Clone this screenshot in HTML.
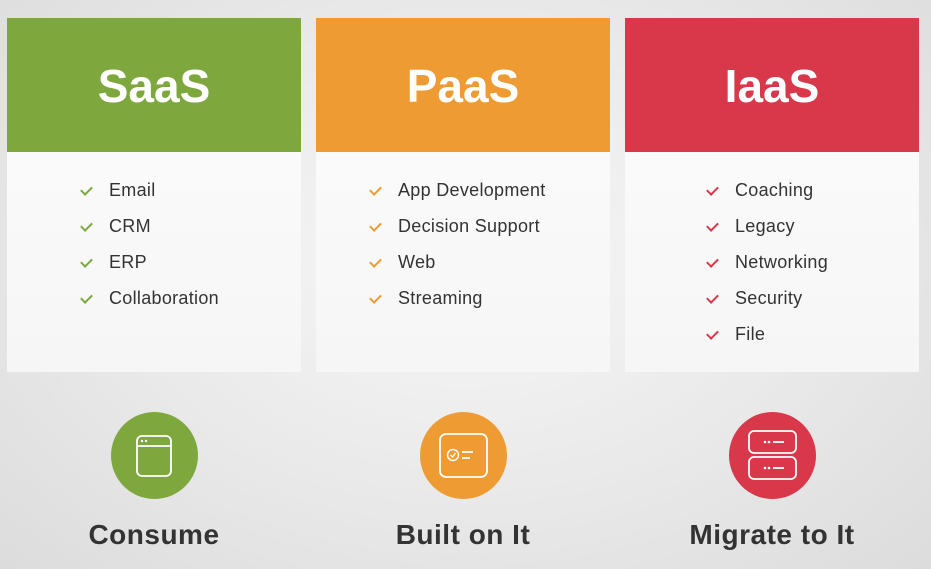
<!DOCTYPE html>
<html><head><style>
body{margin:0;width:931px;height:569px;overflow:hidden;background:radial-gradient(ellipse at 50% 45%,#f7f7f7 0%,#e9e9e9 55%,#dcdcdc 100%);font-family:"Liberation Sans",sans-serif;position:relative}
.card{position:absolute;top:18px;width:294px;height:354px;background:linear-gradient(#f3f3f3,#fafafa 40%,#f6f6f6)}
.hd{height:134px;color:#fff;font-weight:bold;font-size:46px;text-align:center;line-height:136px}
ul{list-style:none;margin:0;padding:0;position:absolute;top:20px}
li{height:36px;line-height:36px;font-size:18px;color:#333;position:relative;padding-left:28px;letter-spacing:.3px}
li:before{content:"";position:absolute;left:2px;top:12px;width:5px;height:9px;border-right:2px solid var(--c);border-bottom:2px solid var(--c);transform:rotate(45deg)}
.circ{position:absolute;top:412px;width:87px;height:87px;border-radius:50%}
.lab{position:absolute;top:519px;width:300px;text-align:center;font-size:28px;font-weight:bold;color:#333;letter-spacing:.5px}
</style></head><body>
<div class="card" style="left:7px;--c:#7da83e"><div class="hd" style="background:#7ea83e">SaaS</div>
<div style="position:relative"><ul style="left:74px"><li>Email</li><li>CRM</li><li>ERP</li><li>Collaboration</li></ul></div></div>
<div class="card" style="left:316px;--c:#ee9b34"><div class="hd" style="background:#ef9b33">PaaS</div>
<div style="position:relative"><ul style="left:54px"><li>App Development</li><li>Decision Support</li><li>Web</li><li>Streaming</li></ul></div></div>
<div class="card" style="left:625px;--c:#d7394a"><div class="hd" style="background:#d8384a">IaaS</div>
<div style="position:relative"><ul style="left:82px"><li>Coaching</li><li>Legacy</li><li>Networking</li><li>Security</li><li>File</li></ul></div></div>

<div class="circ" style="left:111px;background:#7ea83e"><svg width="87" height="87"><rect x="26" y="24" width="34" height="40" rx="5" fill="none" stroke="#fff" stroke-width="1.8"/><line x1="26" y1="34" x2="60" y2="34" stroke="#fff" stroke-width="1.8"/><circle cx="31" cy="29" r="1.2" fill="#fff"/><circle cx="35" cy="29" r="1.2" fill="#fff"/></svg></div>
<div class="circ" style="left:420px;background:#ef9b33"><svg width="87" height="87"><rect x="20" y="22" width="47" height="43" rx="6" fill="none" stroke="#fff" stroke-width="1.8"/><circle cx="33" cy="43" r="5.5" fill="none" stroke="#fff" stroke-width="1.5"/><path d="M30.5 43l2 2 3-4" fill="none" stroke="#fff" stroke-width="1.4"/><line x1="42" y1="40" x2="53" y2="40" stroke="#fff" stroke-width="1.8"/><line x1="42" y1="46" x2="50" y2="46" stroke="#fff" stroke-width="1.8"/></svg></div>
<div class="circ" style="left:729px;background:#d8384a"><svg width="87" height="87"><rect x="20" y="19" width="47" height="22" rx="5" fill="none" stroke="#fff" stroke-width="1.8"/><rect x="20" y="45" width="47" height="22" rx="5" fill="none" stroke="#fff" stroke-width="1.8"/><circle cx="36" cy="30" r="1.3" fill="#fff"/><circle cx="40" cy="30" r="1.3" fill="#fff"/><line x1="44" y1="30" x2="55" y2="30" stroke="#fff" stroke-width="1.8"/><circle cx="36" cy="56" r="1.3" fill="#fff"/><circle cx="40" cy="56" r="1.3" fill="#fff"/><line x1="44" y1="56" x2="55" y2="56" stroke="#fff" stroke-width="1.8"/></svg></div>

<div class="lab" style="left:4px">Consume</div>
<div class="lab" style="left:313px">Built on It</div>
<div class="lab" style="left:622px">Migrate to It</div>
</body></html>
